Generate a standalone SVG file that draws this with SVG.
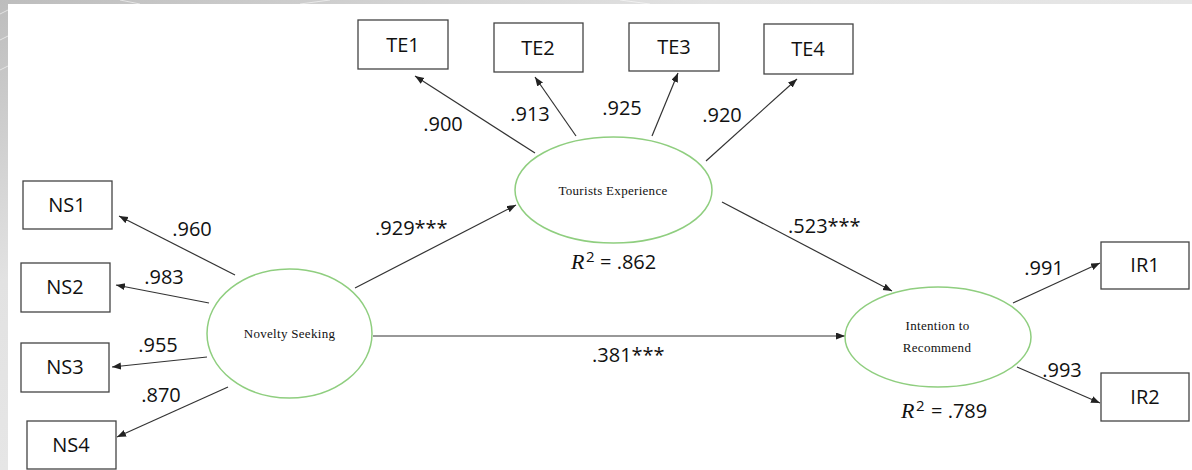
<svg xmlns="http://www.w3.org/2000/svg" width="1192" height="470" viewBox="0 0 1192 470">
  <defs>
    <linearGradient id="bg" x1="0" y1="0" x2="1" y2="1">
      <stop offset="0" stop-color="#bdbdbd"/>
      <stop offset="0.3" stop-color="#e2e2e2"/>
      <stop offset="1" stop-color="#f0f0f0"/>
    </linearGradient>
    <marker id="arr" markerUnits="userSpaceOnUse" markerWidth="10" markerHeight="8" refX="9" refY="3.5" orient="auto">
      <path d="M0,0 L9,3.5 L0,7 z" fill="#222"/>
    </marker>
    <style>
      .box { fill: #fff; stroke: #444; stroke-width: 1.3; }
      .lat { fill: #fff; stroke: #8fce7f; stroke-width: 1.5; }
      .lbl { font-family: "Open Sans", "Liberation Sans", sans-serif; font-size: 20px; fill: #111; }
      .num { font-family: "Open Sans", "Liberation Sans", sans-serif; font-size: 20px; fill: #111; }
      .lv { font-family: "Liberation Serif", "Times New Roman", serif; font-size: 13px; letter-spacing: 0.3px; fill: #111; }
      .edge { stroke: #333; stroke-width: 1.2; fill: none; marker-end: url(#arr); }
      .rv { font-family: "Liberation Serif", serif; font-style: italic; font-size: 22px; fill: #111; }
      .sup { font-family: "Open Sans", sans-serif; font-size: 15px; fill: #111; }
    </style>
  </defs>
  <rect x="0" y="0" width="1192" height="470" fill="url(#bg)"/>
  <g stroke="#fff" stroke-width="0.8" opacity="0.7">
    <line x1="0" y1="14" x2="8" y2="10"/>
    <line x1="0" y1="40" x2="8" y2="36"/>
    <line x1="0" y1="70" x2="8" y2="66"/>
    <line x1="120" y1="0" x2="140" y2="4"/>
    <line x1="300" y1="4" x2="330" y2="0"/>
    <line x1="620" y1="0" x2="650" y2="4"/>
  </g>
  <rect x="8" y="4" width="1184" height="466" fill="#fff"/>

  <g id="connectors">
    <line class="edge" x1="535" y1="153" x2="415" y2="76"/>
    <line class="edge" x1="576" y1="136" x2="535" y2="77"/>
    <line class="edge" x1="652" y1="136" x2="678" y2="73"/>
    <line class="edge" x1="706" y1="161" x2="797" y2="79"/>
    <line class="edge" x1="235" y1="275" x2="119" y2="216"/>
    <line class="edge" x1="209" y1="303" x2="116" y2="285"/>
    <line class="edge" x1="207" y1="357" x2="112" y2="367"/>
    <line class="edge" x1="228" y1="387" x2="117" y2="437"/>
    <line class="edge" x1="355" y1="288" x2="516" y2="205"/>
    <line class="edge" x1="722" y1="202" x2="892" y2="291"/>
    <line class="edge" x1="373" y1="336" x2="845" y2="336"/>
    <line class="edge" x1="1013" y1="303" x2="1100" y2="263"/>
    <line class="edge" x1="1017" y1="367" x2="1100" y2="403"/>
    <g class="num">
      <text x="443" y="131" text-anchor="middle">.900</text>
      <text x="530" y="121" text-anchor="middle">.913</text>
      <text x="622" y="115" text-anchor="middle">.925</text>
      <text x="722" y="122" text-anchor="middle">.920</text>
      <text x="192" y="236" text-anchor="middle">.960</text>
      <text x="164" y="284" text-anchor="middle">.983</text>
      <text x="158" y="352" text-anchor="middle">.955</text>
      <text x="161" y="402" text-anchor="middle">.870</text>
      <text x="375" y="235">.929***</text>
      <text x="788" y="233">.523***</text>
      <text x="592" y="362">.381***</text>
      <text x="1044" y="275" text-anchor="middle">.991</text>
      <text x="1062" y="377" text-anchor="middle">.993</text>
    </g>
  </g>

  <g id="TE1"><rect class="box" x="358" y="20" width="90" height="49"/><text class="lbl" x="403" y="52" text-anchor="middle">TE1</text></g>
  <g id="TE2"><rect class="box" x="494" y="23" width="89" height="49"/><text class="lbl" x="538" y="55" text-anchor="middle">TE2</text></g>
  <g id="TE3"><rect class="box" x="629" y="23" width="90" height="48"/><text class="lbl" x="674" y="54" text-anchor="middle">TE3</text></g>
  <g id="TE4"><rect class="box" x="764" y="24" width="89" height="50"/><text class="lbl" x="808" y="56" text-anchor="middle">TE4</text></g>

  <g id="NS1"><rect class="box" x="23" y="181" width="89" height="48"/><text class="lbl" x="67" y="212" text-anchor="middle">NS1</text></g>
  <g id="NS2"><rect class="box" x="21" y="263" width="89" height="49"/><text class="lbl" x="65" y="294" text-anchor="middle">NS2</text></g>
  <g id="NS3"><rect class="box" x="21" y="343" width="88" height="49"/><text class="lbl" x="65" y="374" text-anchor="middle">NS3</text></g>
  <g id="NS4"><rect class="box" x="27" y="421" width="89" height="48"/><text class="lbl" x="71" y="452" text-anchor="middle">NS4</text></g>

  <g id="IR1"><rect class="box" x="1101" y="242" width="88" height="47"/><text class="lbl" x="1145" y="272" text-anchor="middle">IR1</text></g>
  <g id="IR2"><rect class="box" x="1101" y="373" width="88" height="48"/><text class="lbl" x="1145" y="404" text-anchor="middle">IR2</text></g>

  <g id="TouristsExperience">
    <ellipse class="lat" cx="613.5" cy="190" rx="98.5" ry="53"/>
    <text class="lv" x="613" y="195" text-anchor="middle">Tourists Experience</text>
    <text y="269"><tspan class="rv" x="571">R</tspan><tspan class="sup" x="586" y="262">2</tspan><tspan class="num" x="600" y="269">= .862</tspan></text>
  </g>
  <g id="NoveltySeeking">
    <ellipse class="lat" cx="289.5" cy="333.5" rx="82.5" ry="64.5"/>
    <text class="lv" x="289.5" y="338" text-anchor="middle">Novelty Seeking</text>
  </g>
  <g id="IntentionToRecommend">
    <ellipse class="lat" cx="938" cy="337" rx="93" ry="50"/>
    <text class="lv" x="937.5" y="330" text-anchor="middle">Intention to</text>
    <text class="lv" x="937" y="352" text-anchor="middle">Recommend</text>
    <text y="418"><tspan class="rv" x="901">R</tspan><tspan class="sup" x="916" y="411">2</tspan><tspan class="num" x="931" y="418">= .789</tspan></text>
  </g>
</svg>
